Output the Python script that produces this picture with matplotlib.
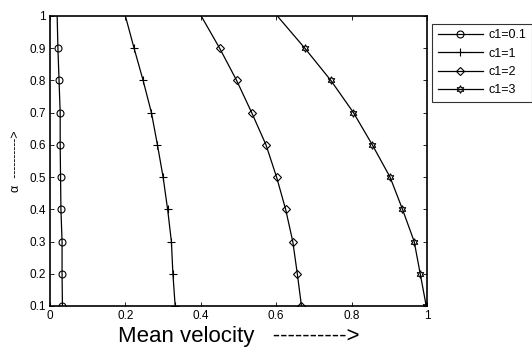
import numpy as np
import matplotlib
matplotlib.use('Agg')
import matplotlib.pyplot as plt

plt.rcParams['font.family'] = ['Liberation Sans', 'DejaVu Sans']

# alpha values (y axis)
alpha = [0.1, 0.2, 0.3, 0.4, 0.5, 0.6, 0.7, 0.8, 0.9, 1.0]

# mean velocity for each c1 (x axis)
v_c01 = [0.033, 0.032, 0.032, 0.029, 0.028, 0.027, 0.027, 0.024, 0.021, 0.019]
v_c1 = [0.332, 0.326, 0.322, 0.312, 0.300, 0.285, 0.269, 0.247, 0.223, 0.200]
v_c2 = [0.667, 0.656, 0.644, 0.625, 0.601, 0.573, 0.535, 0.495, 0.450, 0.401]
v_c3 = [0.998, 0.982, 0.966, 0.935, 0.902, 0.855, 0.805, 0.745, 0.676, 0.603]

labels = ['c1=0.1', 'c1=1', 'c1=2', 'c1=3']
markers = ['o', '+', 'D', (6, 1, 0)]
sizes = [5, 5.5, 4.2, 5.5]

fig = plt.figure(figsize=(5.32, 3.52), dpi=100)
ax = fig.add_axes([50 / 532, 1 - 306 / 352, 377 / 532, 290 / 352])

for v, lab, m, s in zip([v_c01, v_c1, v_c2, v_c3], labels, markers, sizes):
    ax.plot(v, alpha, color='black', linewidth=0.9, marker=m, markersize=s,
            markerfacecolor='none', markeredgecolor='black', markeredgewidth=0.8,
            markevery=list(range(9)), label=lab)

ax.set_xlim(0, 1)
ax.set_ylim(0.1, 1)
ax.set_xticks([0, 0.2, 0.4, 0.6, 0.8, 1])
ax.set_xticklabels(['0', '0.2', '0.4', '0.6', '0.8', '1'])
ax.set_yticks(alpha)
ax.set_yticklabels(['0.1', '0.2', '0.3', '0.4', '0.5', '0.6', '0.7', '0.8', '0.9', '1'])
ax.tick_params(direction='in', top=True, right=True, labelsize=8.5, length=3, width=0.6, pad=3)
for sp in ax.spines.values():
    sp.set_linewidth(1.2)

ax.set_xlabel('Mean velocity   ---------->', fontsize=16, labelpad=3)
ax.set_ylabel('\u03b1  ---------->', fontsize=9, labelpad=5)

leg = ax.legend(loc='upper left', bbox_to_anchor=(1.013, 0.973), numpoints=1,
                fontsize=9, frameon=True, fancybox=False, edgecolor='black',
                borderpad=0.45, labelspacing=0.5, handlelength=3.6, handletextpad=0.5,
                borderaxespad=0)
leg.get_frame().set_linewidth(0.8)

fig.savefig('out.png', dpi=100)
